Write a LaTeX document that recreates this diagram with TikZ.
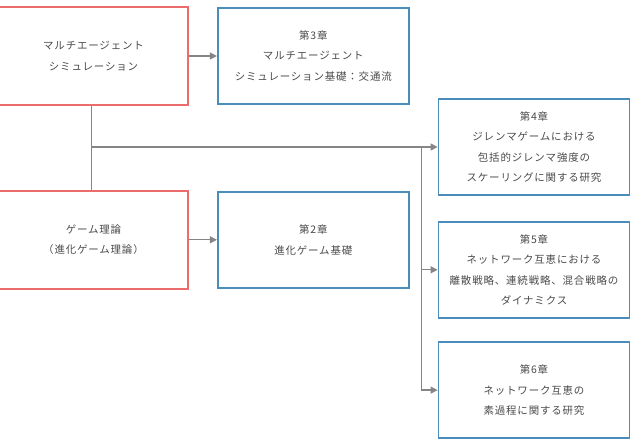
\documentclass[tikz,border=0pt]{standalone}
\usepackage{fontspec}
\usepackage{xcolor}
\usepackage{tikz}
\usetikzlibrary{arrows.meta,positioning}
\setmainfont{Noto Sans CJK JP}[LetterSpace=8]
\definecolor{SrcRed}{HTML}{EA6C6C}
\definecolor{ChapBlue}{HTML}{4A8DBA}
\definecolor{LinkGray}{HTML}{858585}
\definecolor{TextGray}{HTML}{4A4A4A}

\begin{document}
\begin{tikzpicture}[
  x=1bp,y=-1bp,
  node distance=28bp,
  src/.style={draw=SrcRed,line width=1.8bp,fill=white,
    minimum width=189bp,minimum height=98bp,align=center,
    text=TextGray,font=\fontsize{10.5}{20.5}\selectfont},
  chap/.style={draw=ChapBlue,line width=1.8bp,fill=white,
    minimum width=191bp,minimum height=96bp,align=center,
    text=TextGray,font=\fontsize{10.5}{20.5}\selectfont},
  link/.style={line width=1.3bp,color=LinkGray},
  a/.style={link,-{Triangle[length=7bp,width=7bp]}}
]
  \useasboundingbox (0,0) rectangle (633,440);
  % source fields on the left
  \node[src] (mas) at (93.5,56) {マルチエージェント\\シミュレーション};
  \node[src,below=84bp of mas] (game) {ゲーム理論\\（進化ゲーム理論）};
  % chapters
  \node[chap,right=of mas] (ch3) {第3章\\マルチエージェント\\シミュレーション基礎：交通流};
  \node[chap,right=of game] (ch2) {第2章\\進化ゲーム基礎};
  \node[chap] (ch4) at (534,147) {第4章\\ジレンマゲームにおける\\包括的ジレンマ強度の\\スケーリングに関する研究};
  \node[chap,below=25bp of ch4] (ch5) {第5章\\ネットワーク互恵における\\離散戦略、連続戦略、混合戦略の\\ダイナミクス};
  \node[chap,below=22.5bp of ch5] (ch6) {第6章\\ネットワーク互恵の\\素過程に関する研究};
  \draw[a] (mas) -- (ch3);
  \draw[a] (game) -- (ch2);
  % trunk between both fields, then on to chapters 4--6
  \coordinate (hub) at ([xshift=-2bp]mas.south |- ch4.west);
  \coordinate (fork) at ([xshift=-16bp]ch4.west);
  \draw[link] ([xshift=-2bp]mas.south) -- ([xshift=-2bp]game.north);
  \draw[a] (hub) -- (ch4.west);
  \draw[a] (fork) |- (ch6.west);
  \draw[a] (fork |- ch5.west) -- (ch5.west);
\end{tikzpicture}
\end{document}
